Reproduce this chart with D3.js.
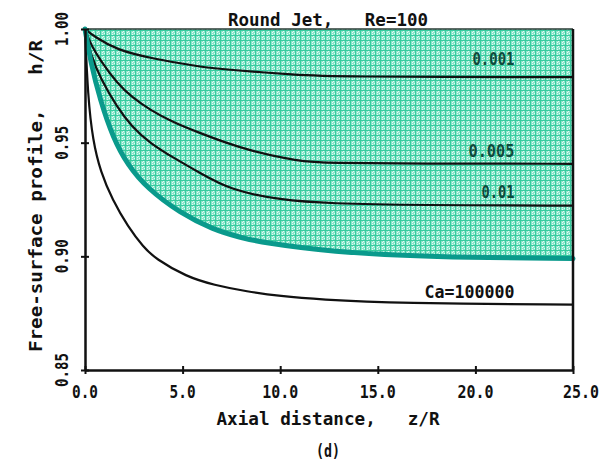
<!DOCTYPE html>
<html>
<head>
<meta charset="utf-8">
<script src="https://cdn.jsdelivr.net/npm/d3@7"></script>
<style>
  body { margin: 0; background: #fff; }
  text { font-family: "DejaVu Sans Mono", monospace; fill: #111; font-weight: bold; }
</style>
</head>
<body>
<div id="chart"></div>
<script>
// values (z/R, h/R)
const xTicks = [0, 5, 10, 15, 20, 25];
const yTicks = [0.85, 0.90, 0.95, 1.00];

const ca001Z = [0, 0.5, 1.64, 3.33, 5.9, 7.43, 10.87, 12.56, 25];
const ca001H = [1.0, 0.9965, 0.9908, 0.9872, 0.9833, 0.982, 0.9798, 0.979, 0.9788];

const ca005Z = [0, 0.26, 0.8, 1.64, 2.4, 3.33, 4.5, 5.9, 7.2, 8.46, 10.87, 12.56, 17, 25];
const ca005H = [1.0, 0.9938, 0.986, 0.9762, 0.970, 0.9644, 0.959, 0.9542, 0.950, 0.9465, 0.9418, 0.941, 0.9408, 0.9407];

const ca01Z = [0, 0.26, 0.8, 1.64, 2.4, 3.33, 4.5, 5.9, 7.43, 10, 12.56, 17, 25];
const ca01H = [1.0, 0.9894, 0.978, 0.9657, 0.957, 0.9498, 0.9435, 0.9366, 0.9292, 0.9248, 0.9232, 0.9225, 0.9223];

// thick teal boundary of the shaded region
const bandZ = [0, 0.3, 0.77, 1.44, 2.2, 3.18, 4.87, 6.56, 7.94, 9.12, 12.56, 17.7, 25];
const bandH = [1.0, 0.985, 0.969, 0.952, 0.940, 0.930, 0.919, 0.9118, 0.9083, 0.906, 0.902, 0.8997, 0.899];

const caBigZ = [0, 0.15, 0.4, 0.8, 1.4, 2.2, 3.0, 3.6, 5.2, 6.6, 8.3, 10, 12, 16, 25];
const caBigH = [1.0, 0.97, 0.951, 0.937, 0.925, 0.913, 0.904, 0.899, 0.891, 0.8874, 0.8845, 0.8825, 0.881, 0.8793, 0.8788];

const curveLabels = [
  {text: "0.001", z: 22.0, h: 0.9842, w: 42},
  {text: "0.005", z: 22.0, h: 0.9437, w: 46},
  {text: "0.01",  z: 22.0, h: 0.9257, w: 33},
  {text: "Ca=100000", z: 22.0, h: 0.8817, w: 90}
];

const width = 612, height = 462;
const margin = {top: 29, right: 39, bottom: 92, left: 85};

const svg = d3.select("#chart").append("svg")
  .attr("width", width).attr("height", height);

const x = d3.scaleLinear().domain([0, 25]).range([margin.left, width - margin.right]);
const y = d3.scaleLinear().domain([0.85, 1.0]).range([height - margin.bottom, margin.top]);

// fill pattern: mint grid with dither
const defs = svg.append("defs");
const pat = defs.append("pattern")
  .attr("id", "mint").attr("patternUnits", "userSpaceOnUse")
  .attr("width", 5).attr("height", 5);
pat.append("rect").attr("width", 5).attr("height", 5).attr("fill", "#8ce5cb");
pat.append("rect").attr("x", 0).attr("y", 0).attr("width", 5).attr("height", 1).attr("fill", "#38cc9f");
pat.append("rect").attr("x", 0).attr("y", 0).attr("width", 1).attr("height", 5).attr("fill", "#38cc9f");
[[2, 2], [4, 3], [2, 4], [3, 1]].forEach(p => {
  pat.append("rect").attr("x", p[0]).attr("y", p[1]).attr("width", 1).attr("height", 1).attr("fill", "#e4fbf4");
});

const bandPts = bandZ.map((z, i) => [z, bandH[i]]);
const line = d3.line().x(d => x(d[0])).y(d => y(d[1])).curve(d3.curveBasis);
const area = d3.area().x(d => x(d[0])).y0(y(1.0)).y1(d => y(d[1])).curve(d3.curveBasis);

svg.append("path").datum(bandPts).attr("d", area).attr("fill", "url(#mint)");

// top edge of the shaded region
svg.append("line")
  .attr("x1", x(0)).attr("x2", x(25)).attr("y1", y(1.0)).attr("y2", y(1.0))
  .attr("stroke", "#2a3a34").attr("stroke-width", 1.5);

// thin black curves
[[ca001Z, ca001H], [ca005Z, ca005H], [ca01Z, ca01H], [caBigZ, caBigH]].forEach(c => {
  svg.append("path")
    .datum(c[0].map((z, i) => [z, c[1][i]]))
    .attr("d", line)
    .attr("fill", "none")
    .attr("stroke", "#111")
    .attr("stroke-width", 2.2);
});

// thick teal curve
svg.append("path").datum(bandPts).attr("d", line)
  .attr("fill", "none").attr("stroke", "#0a9a8c").attr("stroke-width", 5)
  .attr("stroke-linecap", "round");

// axes frame
const xAxis = d3.axisBottom(x).tickValues(xTicks).tickSize(0).tickFormat(d3.format(".1f"));
const gx = svg.append("g").attr("transform", `translate(0,${y(0.85)})`).call(xAxis);
gx.select(".domain").attr("stroke", "#111").attr("stroke-width", 2.5);
gx.selectAll(".tick text").remove();
gx.selectAll(".tick").append("line").attr("y1", -4).attr("y2", 4)
  .attr("stroke", "#111").attr("stroke-width", 2);

const yAxis = d3.axisLeft(y).tickValues(yTicks).tickSize(0);
const gy = svg.append("g").attr("transform", `translate(${x(0)},0)`).call(yAxis);
gy.select(".domain").attr("stroke", "#111").attr("stroke-width", 2.5);
gy.selectAll(".tick text").remove();
gy.selectAll(".tick").append("line").attr("x1", -4).attr("x2", 4)
  .attr("stroke", "#111").attr("stroke-width", 2);

svg.append("line")
  .attr("x1", x(25)).attr("x2", x(25)).attr("y1", y(1.0)).attr("y2", y(0.85))
  .attr("stroke", "#111").attr("stroke-width", 2.5);

// tick labels
svg.selectAll(".xlab").data(xTicks).join("text")
  .attr("x", d => x(d) + (d === 25 ? 8 : 0)).attr("y", 398)
  .attr("text-anchor", "middle").attr("font-size", 17)
  .attr("textLength", d => d >= 10 ? 36 : 26).attr("lengthAdjust", "spacingAndGlyphs")
  .text(d => d3.format(".1f")(d));

svg.selectAll(".ylab").data(yTicks).join("text")
  .attr("transform", d => `translate(68,${y(d)}) rotate(-90)`)
  .attr("text-anchor", "middle").attr("font-size", 17)
  .attr("textLength", 34).attr("lengthAdjust", "spacingAndGlyphs")
  .text(d => d3.format(".2f")(d));

// titles
svg.append("text").attr("x", 328).attr("y", 26).attr("text-anchor", "middle")
  .attr("font-size", 18).attr("textLength", 200).attr("lengthAdjust", "spacingAndGlyphs")
  .attr("xml:space", "preserve")
  .text("Round Jet,   Re=100");

svg.append("text").attr("x", 328).attr("y", 425).attr("text-anchor", "middle")
  .attr("font-size", 18).attr("textLength", 223).attr("lengthAdjust", "spacingAndGlyphs")
  .attr("xml:space", "preserve")
  .text("Axial distance,   z/R");

svg.append("text").attr("x", 328).attr("y", 457).attr("text-anchor", "middle")
  .attr("font-size", 17).attr("textLength", 24).attr("lengthAdjust", "spacingAndGlyphs")
  .text("(d)");

svg.append("text").attr("transform", "translate(42,196) rotate(-90)")
  .attr("text-anchor", "middle").attr("font-size", 18)
  .attr("textLength", 312).attr("lengthAdjust", "spacingAndGlyphs")
  .attr("xml:space", "preserve")
  .text("Free-surface profile,   h/R");

// curve labels
svg.selectAll(".clab").data(curveLabels).join("text")
  .attr("x", d => x(d.z)).attr("y", d => y(d.h))
  .attr("text-anchor", "end").attr("font-size", 17)
  .attr("textLength", d => d.w)
  .attr("lengthAdjust", "spacingAndGlyphs")
  .style("fill", d => d.text.startsWith("Ca") ? "#111" : "#0e4a3c")
  .text(d => d.text);
</script>
</body>
</html>
